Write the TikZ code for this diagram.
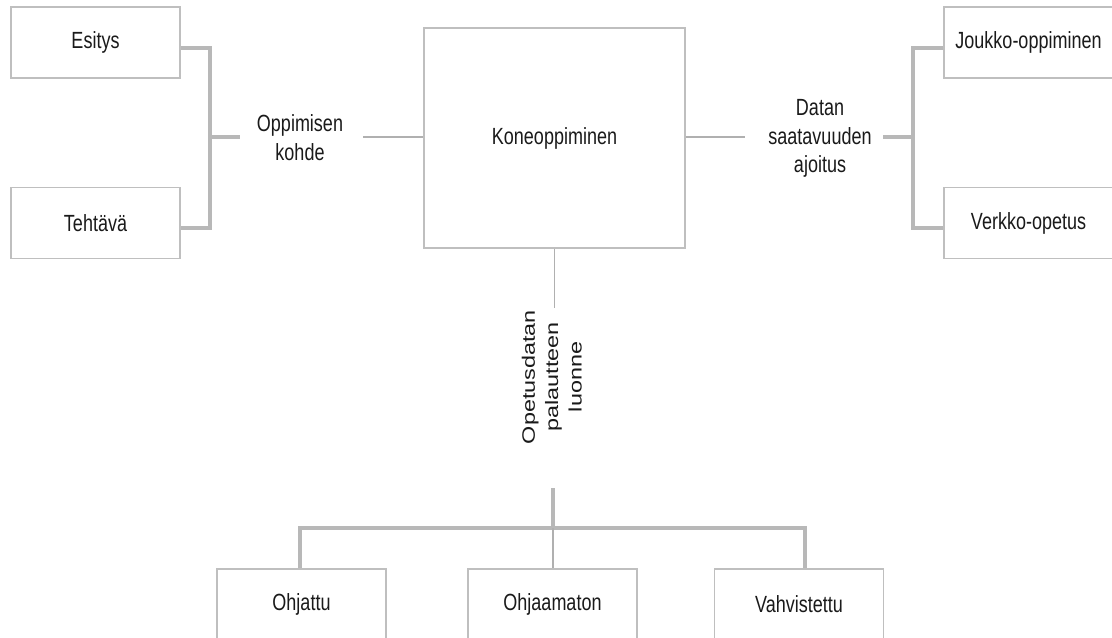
\documentclass[tikz,border=0pt]{standalone}
\usepackage{fontspec}
\setmainfont{Liberation Sans}
\usetikzlibrary{calc}
\definecolor{boxgray}{HTML}{BFBFBF}
\definecolor{linegray}{HTML}{B0B0B0}
\definecolor{brgray}{HTML}{B8B8B8}
\definecolor{txt}{HTML}{1A1A1A}
\newcommand\stretchtxt[1]{\scalebox{1}[1.3]{#1}}
\newcommand\mlines[1]{\begin{tabular}{@{}c@{}}#1\end{tabular}}
\begin{document}
\begin{tikzpicture}[x=0.75pt,y=-0.75pt,
  box/.style={draw=boxgray, line width=1.3pt, fill=white, inner sep=0pt, text=txt,
    font=\fontsize{13.5}{16.5}\selectfont, minimum width=126.75pt, minimum height=53.25pt},
  bigbox/.style={box, minimum width=195.75pt, minimum height=165pt},
  lbl/.style={inner sep=0pt, text=txt, font=\fontsize{13.5}{16.5}\selectfont},
  rlbl/.style={inner sep=0pt, text=txt, font=\fontsize{13.5}{17.5}\selectfont},
  conn/.style={draw=linegray, line width=1.1pt},
  bracket/.style={draw=brgray, line width=2.6pt, line join=miter}]
\clip (0,0) rectangle (1112,637);
\fill[white] (0,0) rectangle (1112,637);

% boxes
\node[bigbox] (kone) at (554.5,138) {\stretchtxt{Koneoppiminen}};
\node[box] (esitys) at (95.5,42.5) {\stretchtxt{Esitys}};
\node[box] (tehtava) at (95.5,223) {\stretchtxt{Tehtävä}};
\node[box] (joukko) at (1028.5,42.5) {\stretchtxt{Joukko-oppiminen}};
\node[box] (verkko) at (1028.5,223) {\stretchtxt{Verkko-opetus}};
\node[box] (ohjattu) at (301.5,604.5) {\stretchtxt{Ohjattu}};
\node[box] (ohjaamaton) at (552.5,604.5) {\stretchtxt{Ohjaamaton}};
\node[box] (vahv) at (799,604.5) {\stretchtxt{Vahvistettu}};

% labels
\node[lbl] (lk) at (300,140) {\stretchtxt{\mlines{Oppimisen\\kohde}}};
\node[lbl] (dk) at (820,138.5) {\stretchtxt{\mlines{Datan\\saatavuuden\\ajoitus}}};
\node[rlbl] (ok) at (553.5,377) {\stretchtxt{\rotatebox{90}{\mlines{Opetusdatan\\palautteen\\luonne}}}};

% junction coordinates
\coordinate (lj) at (210,137);
\coordinate (lkL) at (240,137);
\coordinate (lkR) at (363,137);
\coordinate (rj) at (913,137);
\coordinate (dkL) at (745,137);
\coordinate (dkR) at (883,137);
\coordinate (okT) at (554.5,308);
\coordinate (okB) at (553,488);
\coordinate (bj) at (553,528);

% left
\draw[bracket] ($(esitys.east)+(0,5.5)$) -| (lj) |- ($(tehtava.east)+(0,5)$);
\draw[bracket] (lj) -- (lkL);
\draw[conn] (lkR) -- (kone.west |- lkR);

% right
\draw[conn] (kone.east |- dkL) -- (dkL);
\draw[bracket] (dkR) -- (rj);
\draw[bracket] ($(joukko.west)+(0,5.5)$) -| (rj) |- ($(verkko.west)+(0,5)$);

% bottom
\draw[conn] (kone.south) -- (okT);
\draw[bracket] (okB) -- (bj);
\draw[bracket] ($(ohjattu.north)+(-1.5,0)$) |- (bj) -| ($(vahv.north)+(6,0)$);
\draw[conn] (bj) -- (bj |- ohjaamaton.north);
\end{tikzpicture}
\end{document}
